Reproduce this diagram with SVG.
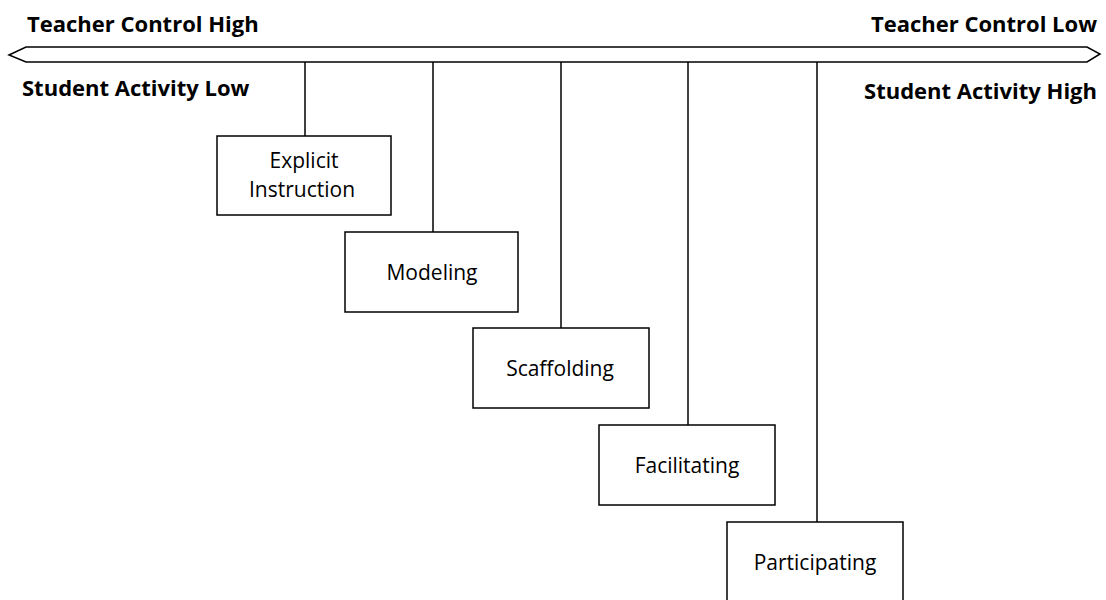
<svg xmlns="http://www.w3.org/2000/svg" width="1106" height="600" viewBox="0 0 1106 600">
<style>
.hdr{font-family:"Open Sans","Noto Sans",sans-serif;font-weight:bold;font-size:22px;fill:#000}
.lbl{font-family:"Open Sans","Noto Sans",sans-serif;font-size:21px;fill:#000;text-anchor:middle}
.box{fill:#fff;stroke:#000;stroke-width:1.5}
.conn{stroke:#000;stroke-width:1.5;fill:none}
</style>
<rect width="1106" height="600" fill="#fff"/>
<g id="axis">
<path d="M9,55 L26,47 L1087,47 L1100,54 L1087,62 L26,62 Z" fill="#fff" stroke="#000" stroke-width="1.5"/>
</g>
<g id="labels">
<text class="hdr" x="27" y="32">Teacher Control High</text>
<text class="hdr" x="1097" y="32" text-anchor="end">Teacher Control Low</text>
<text class="hdr" x="22" y="96">Student Activity Low</text>
<text class="hdr" x="1097" y="99" text-anchor="end">Student Activity High</text>
</g>
<g id="connectors">
<line class="conn" x1="305" y1="62" x2="305" y2="136"/>
<line class="conn" x1="433" y1="62" x2="433" y2="232"/>
<line class="conn" x1="561" y1="62" x2="561" y2="328"/>
<line class="conn" x1="688" y1="62" x2="688" y2="425"/>
<line class="conn" x1="817" y1="62" x2="817" y2="522"/>
</g>
<g id="explicit">
<rect class="box" x="217" y="136" width="174" height="79"/>
<text class="lbl" x="304" y="168">Explicit</text>
<text class="lbl" x="302" y="197">Instruction</text>
</g>
<g id="modeling">
<rect class="box" x="345" y="232" width="173" height="80"/>
<text class="lbl" x="432" y="280">Modeling</text>
</g>
<g id="scaffolding">
<rect class="box" x="473" y="328" width="176" height="80"/>
<text class="lbl" x="560" y="376">Scaffolding</text>
</g>
<g id="facilitating">
<rect class="box" x="599" y="425" width="176" height="80"/>
<text class="lbl" x="687" y="473">Facilitating</text>
</g>
<g id="participating">
<rect class="box" x="727" y="522" width="176" height="90"/>
<text class="lbl" x="815" y="570">Participating</text>
</g>
</svg>
